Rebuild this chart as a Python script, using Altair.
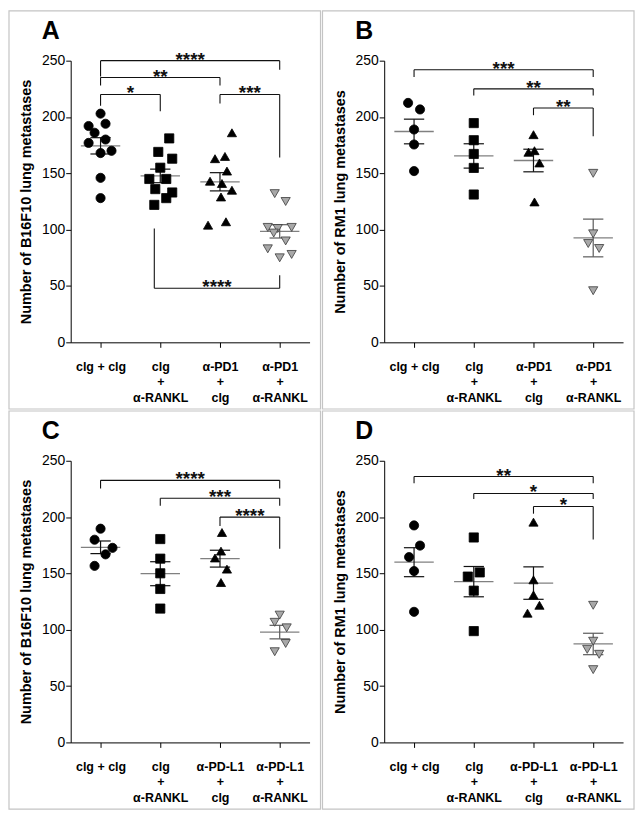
import json
import altair as alt
import pandas as pd

# ---------------- data ----------------
LABELS_PD1 = [["clg + clg"], ["clg", "+", "α-RANKL"], ["α-PD1", "+", "clg"], ["α-PD1", "+", "α-RANKL"]]
LABELS_PDL1 = [["clg + clg"], ["clg", "+", "α-RANKL"], ["α-PD-L1", "+", "clg"], ["α-PD-L1", "+", "α-RANKL"]]

TITLE_B16 = "Number of B16F10 lung metastases"
TITLE_RM1 = "Number of RM1 lung metastases"

# Panel A (B16F10, anti-PD1), n = 10
A_G1 = [203, 192, 194, 186, 177, 180, 168, 170, 146, 128]
A_G2 = [181, 169, 163, 155, 145, 145, 136, 133, 128, 122]
A_G3 = [186, 165, 163, 152, 143, 141, 135, 129, 104, 107]
A_G4 = [132, 125, 102, 101, 102, 97, 90, 83, 78, 75]
# horizontal scatter of the points (in px of the original figure)
A_J1 = [0, -12, 5, -6, -12, 5, 0, 11, 0, 0]
A_J2 = [9, -2, 12, 0, -11, 6, -5, 12, 6, -6]
A_J3 = [12, 5, -5, 7, -10, 2, 12, 1, -12, 6]
A_J4 = [-5, 6, -12, -2, 12, -6, 6, -12, 12, 0]
# brackets: from group, to group, line level, left end, right end, label
A_BR = [
    (0, 3, 250, 236, 242, "****"),
    (0, 2, 235, 228, 228, "**"),
    (0, 1, 220, 210, 205, "*"),
    (2, 3, 220, 212, 164, "***"),
    (0.9, 3, 48, 101, 59.5, "****"),
]

# Panel B (RM1, anti-PD1), n = 5
B_G1 = [212.5, 206.7, 188.9, 175.6, 152]
B_G2 = [194.6, 179.4, 167.2, 154.8, 131.2]
B_G3 = [184.3, 168.7, 170.1, 159.2, 124.6]
B_G4 = [150, 96.3, 87.7, 83.3, 45.8]
B_J1 = [-6, 6, 0, 0, 0]
B_J2 = [0, 0, 0, 0, 0]
B_J3 = [0, -5, 1, 6, 1]
B_J4 = [0, 0, -5, 6, 0]
B_BR = [
    (0, 3, 242, 235.6, 235.6, "***"),
    (1, 3, 225, 219, 219, "**"),
    (2, 3, 208, 201.6, 183, "**"),
]

# Panel C (B16F10, anti-PD-L1), n = 5
C_G1 = [189.7, 179.9, 172.7, 166.9, 156.7]
C_G2 = [180.5, 163.1, 150.1, 136.2, 118.8]
C_G3 = [186.3, 169.8, 163.7, 153.8, 141.9]
C_G4 = [113, 106.6, 101.7, 87.8, 80.5]
C_J1 = [0, -6, 12, 5, -6]
C_J2 = [0, 0, 0, 0, 0]
C_J3 = [2, 1, -5, 7, 1]
C_J4 = [0, -5, 7, 6, -5]
C_BR = [
    (0, 3, 232.6, 225.4, 225.4, "****"),
    (1, 3, 216.7, 210, 210, "***"),
    (2, 3, 200, 192, 172, "****"),
]

# Panel D (RM1, anti-PD-L1), n = 5
D_G1 = [192.6, 174.7, 164.5, 152.1, 115.9]
D_G2 = [181.9, 150.9, 147.2, 134.7, 98.8]
D_G3 = [195.5, 144.3, 130.9, 121.7, 114.7]
D_G4 = [121.7, 89.8, 82.6, 78.2, 64.6]
D_J1 = [0, 6, -5, 0, 0]
D_J2 = [0, 6, -6, 0, 0]
D_J3 = [0, 0, 0, 6, -6]
D_J4 = [0, 0, -6, 6, 0]
D_BR = [
    (0, 3, 236, 230, 230, "**"),
    (1, 3, 221, 216, 216, "*"),
    (2, 3, 209.4, 203, 180, "*"),
]

Y_TICKS = [0, 50, 100, 150, 200, 250]

# ---------------- styling ----------------
GROUPS = ["g0", "g1", "g2", "g3"]
SHAPES = ["circle", "square", "triangle-up", "triangle-down"]
FILLS = ["#000000", "#000000", "#000000", "#a8a8a8"]
STROKES = ["#000000", "#000000", "#000000", "#3a3a3a"]
ERRC = ["#111111", "#111111", "#111111", "#5a5a5a"]
FONT = "Liberation Sans"
W, H = 240, 283
PX_PER_GROUP = 60.0


def panel(letter, ytitle, labels, values, jitters, brackets):
    rows = []
    for g, (vals, jit) in enumerate(zip(values, jitters)):
        for v, j in zip(vals, jit):
            rows.append({"grp": GROUPS[g], "x": g + j / PX_PER_GROUP, "y": v})
    pts = pd.DataFrame(rows)
    pts["gi"] = pts["grp"].map({k: i for i, k in enumerate(GROUPS)})

    st = pts.groupby("grp").agg(gi=("gi", "first"), mean=("y", "mean"),
                                sd=("y", "std"), n=("y", "count")).reset_index()
    st["sem"] = st["sd"] / st["n"] ** 0.5
    st["lo"] = st["mean"] - st["sem"]
    st["hi"] = st["mean"] + st["sem"]
    st["m1"] = st["gi"] - 0.33
    st["m2"] = st["gi"] + 0.33
    st["c1"] = st["gi"] - 0.17
    st["c2"] = st["gi"] + 0.17
    caps = pd.concat([st.assign(cy=st["lo"]), st.assign(cy=st["hi"])], ignore_index=True)

    br = pd.DataFrame(brackets, columns=["g1", "g2", "yl", "e1", "e2", "lab"])
    br["xm"] = (br["g1"] + br["g2"]) / 2

    xs = alt.Scale(domain=[-0.5, 3.5], nice=False, zero=False)
    ys = alt.Scale(domain=[0, 250], nice=False, zero=True)
    label_expr = json.dumps(labels, ensure_ascii=False) + "[datum.value]"
    xaxis = alt.Axis(values=[0, 1, 2, 3], labelExpr=label_expr, title=None, grid=False,
                     domainColor="#000", domainWidth=1, tickColor="#000", tickSize=5,
                     labelFont=FONT, labelFontSize=12.5, labelFontWeight="bold",
                     labelColor="#000", labelLineHeight=15.5, labelPadding=13,
                     labelAngle=0, labelFlush=False, labelOverlap=False)
    yaxis = alt.Axis(values=Y_TICKS, title=ytitle, grid=False,
                     domainColor="#000", domainWidth=1, tickColor="#000", tickSize=5,
                     labelFont=FONT, labelFontSize=14, labelColor="#000", labelPadding=1,
                     titleFont=FONT, titleFontSize=14.5, titleFontWeight="bold",
                     titleColor="#000", titlePadding=8)

    def X(f):
        return alt.X(f, scale=xs, axis=xaxis)

    def Y(f):
        return alt.Y(f, scale=ys, axis=yaxis)

    points = alt.Chart(pts).mark_point(filled=True, opacity=1, fillOpacity=1,
                                       strokeWidth=0.8, size=85).encode(
        x=X("x:Q"),
        y=Y("y:Q"),
        shape=alt.Shape("grp:N", scale=alt.Scale(domain=GROUPS, range=SHAPES), legend=None),
        fill=alt.Fill("grp:N", scale=alt.Scale(domain=GROUPS, range=FILLS), legend=None),
        stroke=alt.Stroke("grp:N", scale=alt.Scale(domain=GROUPS, range=STROKES), legend=None),
    )

    mean_line = alt.Chart(st).mark_rule(color="#808080", strokeWidth=1.3).encode(
        x=X("m1:Q"), x2="m2:Q", y=Y("mean:Q"),
    )
    sem_v = alt.Chart(st).mark_rule(strokeWidth=1.2).encode(
        x=X("gi:Q"), y=Y("lo:Q"), y2="hi:Q",
        color=alt.Color("grp:N", scale=alt.Scale(domain=GROUPS, range=ERRC), legend=None),
    )
    sem_caps = alt.Chart(caps).mark_rule(strokeWidth=1.2).encode(
        x=X("c1:Q"), x2="c2:Q", y=Y("cy:Q"),
        color=alt.Color("grp:N", scale=alt.Scale(domain=GROUPS, range=ERRC), legend=None),
    )

    bh = alt.Chart(br).mark_rule(color="#111", strokeWidth=1.1).encode(
        x=X("g1:Q"), x2="g2:Q", y=Y("yl:Q"),
    )
    bl = alt.Chart(br).mark_rule(color="#111", strokeWidth=1.1).encode(
        x=X("g1:Q"), y=Y("yl:Q"), y2="e1:Q",
    )
    brr = alt.Chart(br).mark_rule(color="#111", strokeWidth=1.1).encode(
        x=X("g2:Q"), y=Y("yl:Q"), y2="e2:Q",
    )
    stars = alt.Chart(br).mark_text(font=FONT, fontSize=19, fontWeight="bold",
                                    color="#111", baseline="alphabetic", dy=5).encode(
        x=X("xm:Q"), y=Y("yl:Q"), text="lab:N",
    )

    dummy = pd.DataFrame({"k": [0]})
    frame = alt.Chart(dummy).mark_rect(fillOpacity=0, stroke="#c4c4c4", strokeWidth=1.2,
                                       clip=False).encode(
        x=alt.value(-62), x2=alt.value(251), y=alt.value(-50), y2=alt.value(350),
    )
    letter_mark = alt.Chart(dummy).mark_text(font=FONT, fontSize=25, fontWeight="bold",
                                             align="left", baseline="alphabetic",
                                             color="#000").encode(
        x=alt.value(-29), y=alt.value(-22), text=alt.value(letter),
    )

    return alt.layer(frame, letter_mark, bh, bl, brr, stars, mean_line, sem_v, sem_caps,
                     points).properties(width=W, height=H)


pa = panel("A", TITLE_B16, LABELS_PD1, [A_G1, A_G2, A_G3, A_G4], [A_J1, A_J2, A_J3, A_J4], A_BR)
pb = panel("B", TITLE_RM1, LABELS_PD1, [B_G1, B_G2, B_G3, B_G4], [B_J1, B_J2, B_J3, B_J4], B_BR)
pc = panel("C", TITLE_B16, LABELS_PDL1, [C_G1, C_G2, C_G3, C_G4], [C_J1, C_J2, C_J3, C_J4], C_BR)
pd_ = panel("D", TITLE_RM1, LABELS_PDL1, [D_G1, D_G2, D_G3, D_G4], [D_J1, D_J2, D_J3, D_J4], D_BR)

chart = alt.vconcat(
    alt.hconcat(pa, pb, spacing=0),
    alt.hconcat(pc, pd_, spacing=0),
    spacing=0,
).properties(padding=0).configure(font=FONT).configure_view(stroke=None)

chart.save("out.html", embed_options={"renderer": "svg", "actions": False})
